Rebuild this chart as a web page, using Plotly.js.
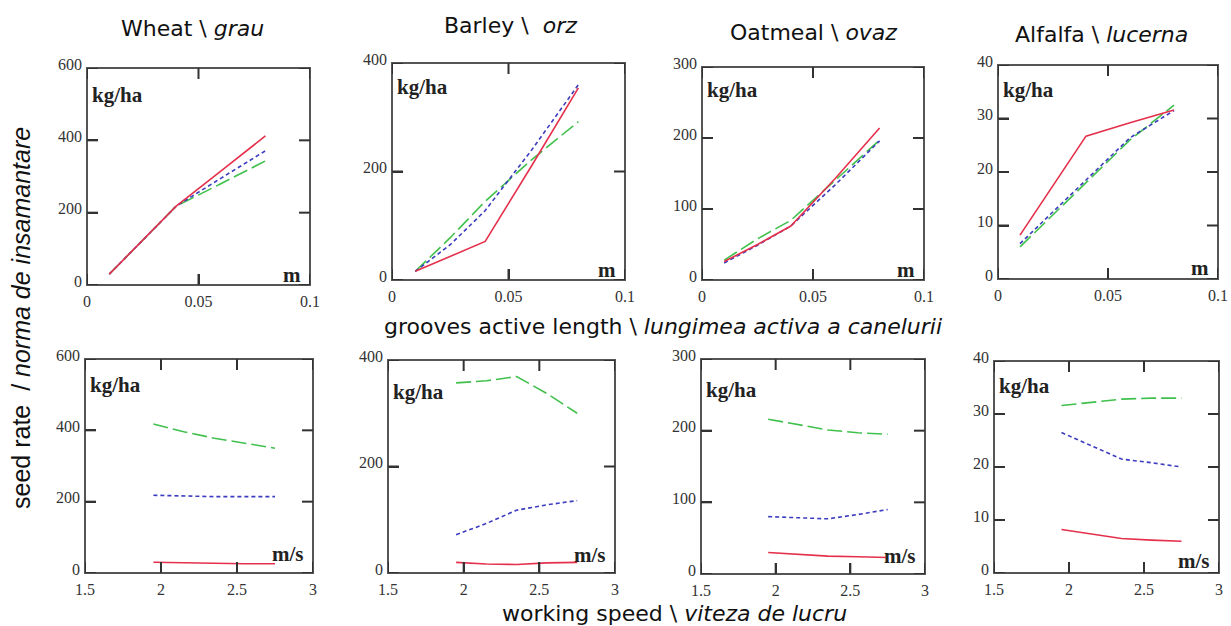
<!DOCTYPE html>
<html>
<head>
<meta charset="utf-8">
<script src="https://cdn.plot.ly/plotly-3.0.1.min.js"></script>
<style>html,body{margin:0;padding:0;background:#fff;}#chart{width:1231px;height:626px;}</style>
</head>
<body>
<div id="chart"></div>
<script>
// ---- data ----
const cropTitles = ["Wheat \\ <i>grau</i>", "Barley \\  <i>orz</i>", "Oatmeal \\ <i>ovaz</i>", "Alfalfa \\ <i>lucerna</i>"];
const lengthX = [0.01, 0.025, 0.04, 0.06, 0.08];
const speedX = [1.95, 2.15, 2.35, 2.55, 2.75];

// top row: seed rate vs grooves active length
const wheatLenRed   = [30, 124, 218, 315, 412];
const wheatLenBlue  = [30, 124, 218, 295, 371];
const wheatLenGreen = [30, 124, 218, 280, 343];
const barleyLenRed   = [16, 43, 71, 211, 354];
const barleyLenBlue  = [16, 65, 128, 240, 360];
const barleyLenGreen = [16, 78, 145, 222, 292];
const oatLenRed   = [26, 50, 76, 143, 214];
const oatLenBlue  = [24, 49, 76, 134, 196];
const oatLenGreen = [28, 58, 84, 140, 197];
const alfLenRed   = [8.2, 17.5, 26.7, 29.2, 31.6];
const alfLenBlue  = [6.6, 12.6, 18.5, 26.4, 31.5];
const alfLenGreen = [6.0, 12.0, 18.0, 26.0, 32.5];

// bottom row: seed rate vs working speed
const wheatSpdRed   = [30, 28, 26, 26, 26];
const wheatSpdBlue  = [218, 215, 214, 214, 214];
const wheatSpdGreen = [418, 396, 378, 365, 350];
const barleySpdRed   = [20, 17, 16, 19, 20];
const barleySpdBlue  = [72, 93, 118, 128, 136];
const barleySpdGreen = [357, 361, 369, 337, 300];
const oatSpdRed   = [30, 27, 25, 24, 23];
const oatSpdBlue  = [80, 79, 77, 83, 90];
const oatSpdGreen = [216, 208, 201, 197, 195];
const alfSpdRed   = [8.2, 7.3, 6.5, 6.2, 6.0];
const alfSpdBlue  = [26.5, 24.0, 21.5, 20.8, 20.0];
const alfSpdGreen = [31.6, 32.2, 32.8, 33.0, 33.0];

const yMax = [600, 400, 300, 40];
const yTicks = [[0, 200, 400, 600], [0, 200, 400], [0, 100, 200, 300], [0, 10, 20, 30, 40]];
const lenTicks = [0, 0.05, 0.1];
const lenTickText = ["0", "0.05", "0.1"];
const spdTicks = [1.5, 2, 2.5, 3];
const spdTickText = ["1.5", "2", "2.5", "3"];
const unitY = "kg/ha", unitLen = "m", unitSpd = "m/s";

// ---- layout geometry (pixels) ----
const W = 1231, H = 626;
const boxes = [
  [87, 310, 68, 285], [392, 625, 63, 280], [702, 924, 67, 280], [998, 1218, 65, 279],
  [85, 313, 359, 573], [388, 615, 360, 573], [701, 925, 359, 574], [994, 1219, 361, 573]
];
const kgShift = [-27, -24, -23, -25, -26, -32, -31, -25];
const unitBottomShift = [-4, -4, -4, -3, 5, 4, 4, -2];
const TICKLEN = 11;
const FRAME = 'rgb(85,85,85)', TICKC = 'rgb(50,50,50)';

const RED = '#e5304c', BLUE = '#3c3cc0', GREEN = '#40c04c';
const lenSets = [
  [wheatLenGreen, wheatLenBlue, wheatLenRed],
  [barleyLenGreen, barleyLenBlue, barleyLenRed],
  [oatLenGreen, oatLenBlue, oatLenRed],
  [alfLenGreen, alfLenBlue, alfLenRed]
];
const spdSets = [
  [wheatSpdGreen, wheatSpdBlue, wheatSpdRed],
  [barleySpdGreen, barleySpdBlue, barleySpdRed],
  [oatSpdGreen, oatSpdBlue, oatSpdRed],
  [alfSpdGreen, alfSpdBlue, alfSpdRed]
];
const styles = [
  {color: GREEN, dash: '15px,5px', width: 1.6},
  {color: BLUE, dash: '4px,3px', width: 1.6},
  {color: RED, dash: 'solid', width: 1.6}
];

const serif = 'Liberation Serif, Times New Roman, serif';
const traces = [];
const layout = {
  width: W, height: H,
  margin: {l: 0, r: 0, t: 0, b: 0},
  paper_bgcolor: '#ffffff', plot_bgcolor: '#ffffff',
  showlegend: false,
  font: {family: serif, color: '#333333'},
  annotations: [],
  shapes: []
};

for (let i = 0; i < 8; i++) {
  const n = i + 1;
  const xa = n === 1 ? 'xaxis' : 'xaxis' + n;
  const ya = n === 1 ? 'yaxis' : 'yaxis' + n;
  const xr = n === 1 ? 'x' : 'x' + n;
  const yr = n === 1 ? 'y' : 'y' + n;
  const b = boxes[i];
  const col = i % 4;
  const top = i < 4;
  const sets = top ? lenSets[col] : spdSets[col];
  const xs = top ? lengthX : speedX;
  sets.forEach((ys, k) => {
    traces.push({x: xs, y: ys, xaxis: xr, yaxis: yr, type: 'scatter', mode: 'lines',
      line: styles[k], hoverinfo: 'skip'});
  });
  const common = {
    showline: false, ticks: 'inside', ticklen: TICKLEN, tickwidth: 2, tickcolor: TICKC,
    showgrid: false, zeroline: false, fixedrange: true,
    tickfont: {family: serif, size: 16, color: '#333333'}
  };
  const xTickVals = top ? lenTicks : spdTicks;
  layout[xa] = Object.assign({}, common, {
    domain: [b[0] / W, b[1] / W], anchor: yr,
    range: top ? [0, 0.1] : [1.5, 3],
    tickmode: 'array',
    tickvals: xTickVals,
    ticktext: top ? lenTickText : spdTickText,
    ticklabelstandoff: 5
  });
  layout[ya] = Object.assign({}, common, {
    domain: [1 - b[3] / H, 1 - b[2] / H], anchor: xr,
    range: [0, yMax[col]],
    tickmode: 'array',
    tickvals: yTicks[col],
    ticklabelstandoff: 4,
    ticklabelshift: -4
  });
  // frame around the plot area
  layout.shapes.push({type: 'rect', xref: xr + ' domain', yref: yr + ' domain',
    x0: 0, x1: 1, y0: 0, y1: 1, line: {color: FRAME, width: 2}, layer: 'above'});
  // inside tick marks on all four sides, placed through the axes' own scales
  xTickVals.forEach(v => {
    [[0, TICKLEN], [1, -TICKLEN]].forEach(([anc, len]) => {
      layout.shapes.push({type: 'line', xref: xr, yref: yr + ' domain', ysizemode: 'pixel',
        yanchor: anc, x0: v, x1: v, y0: 0, y1: len, line: {color: TICKC, width: 2}, layer: 'above'});
    });
  });
  yTicks[col].forEach(v => {
    [[0, TICKLEN], [1, -TICKLEN]].forEach(([anc, len]) => {
      layout.shapes.push({type: 'line', yref: yr, xref: xr + ' domain', xsizemode: 'pixel',
        xanchor: anc, y0: v, y1: v, x0: 0, x1: len, line: {color: TICKC, width: 2}, layer: 'above'});
    });
  });
  layout.annotations.push({
    text: '<b>' + unitY + '</b>', xref: xr + ' domain', yref: yr + ' domain', x: 0, y: 1,
    xanchor: 'left', yanchor: 'middle', xshift: 3, yshift: kgShift[i], showarrow: false,
    font: {family: serif, size: 21, color: '#222222'}
  });
  layout.annotations.push({
    text: '<b>' + (top ? unitLen : unitSpd) + '</b>', xref: xr + ' domain', yref: yr + ' domain', x: 1, y: 0,
    xanchor: 'right', yanchor: 'bottom', xshift: -7, yshift: unitBottomShift[i], showarrow: false,
    font: {family: serif, size: 21, color: '#222222'}
  });
}

const sans = 'DejaVu Sans, Verdana, sans-serif';
const titlePos = [[192, 29], [510, 26], [813, 32], [1101, 34]];
cropTitles.forEach((t, i) => {
  layout.annotations.push({
    text: t, xref: 'paper', yref: 'paper', x: titlePos[i][0] / W, y: 1 - titlePos[i][1] / H,
    xanchor: 'center', yanchor: 'middle', showarrow: false,
    font: {family: sans, size: 22, color: '#111111'}
  });
});
layout.annotations.push({
  text: 'grooves active length \\ <i>lungimea activa a canelurii</i>', xref: 'paper', yref: 'paper',
  x: 663 / W, y: 1 - 326 / H, xanchor: 'center', yanchor: 'middle', showarrow: false,
  font: {family: sans, size: 22, color: '#111111'}
});
layout.annotations.push({
  text: 'working speed \\ <i>viteza de lucru</i>', xref: 'paper', yref: 'paper',
  x: 674 / W, y: 1 - 613 / H, xanchor: 'center', yanchor: 'middle', showarrow: false,
  font: {family: sans, size: 22, color: '#111111'}
});
layout.annotations.push({
  text: 'seed rate  / <i>norma de insamantare</i>', xref: 'paper', yref: 'paper',
  x: 21 / W, y: 1 - 318 / H, xanchor: 'center', yanchor: 'middle', textangle: -90, showarrow: false,
  font: {family: 'Liberation Sans, Arial, sans-serif', size: 25, color: '#111111'}
});

Plotly.newPlot('chart', traces, layout, {displayModeBar: false});
</script>
</body>
</html>
